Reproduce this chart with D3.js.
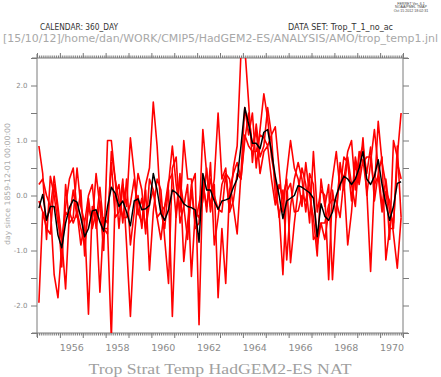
<!DOCTYPE html>
<html>
<head>
<meta charset="utf-8">
<script src="https://cdn.jsdelivr.net/npm/d3@7"></script>
<style>
  body { margin: 0; background: #fff; }
</style>
</head>
<body>
<div id="chart"></div>
<script>
// two-monthly samples, first one centred in Jan/Feb 1955
const startYear = 1955;
const samplesPerYear = 6;
const yearLabels = [1956, 1958, 1960, 1962, 1964, 1966, 1968, 1970];
const yLabels = [-2, -1, 0, 1, 2];

// ensemble mean (black)
const meanLine = [
  -0.23, 0.02, -0.45, -0.2, -0.2, -0.72, -0.95, -0.5, -0.22, -0.08,
  -0.12, -0.4, -0.75, -0.6, -0.28, -0.26, -0.48, -0.65, -0.2, 0.15,
  0.04, -0.2, -0.1, -0.3, -0.55, -0.1, -0.06, -0.26, -0.24, -0.18,
  0.4, 0.1, -0.33, -0.45, -0.26, 0.1, 0.05, -0.03, -0.15, -0.2,
  -0.22, -0.26, -0.85, 0.4, 0.1, 0.1, -0.1, -0.25, -0.1, -0.08,
  -0.05, 0.15, 0.3, 0.9, 1.6, 1.3, 0.95, 0.95, 0.85, 1.15,
  1.2, 0.8, 0.35, 0.0, -0.42, -0.1, -0.05, 0.0, 0.18, 0.15,
  0.1, 0.05, -0.05, -0.75, -0.15, -0.38, -0.45, -0.3, 0.0, 0.2,
  0.35, 0.3, 0.2, 0.3, 0.5, 0.8, 0.3, 0.2, 0.35, 0.65,
  0.2, -0.15, -0.45, -0.2, 0.22, 0.25
];

// ensemble members (red)
const run1 = [
  0.9, 0.4, -0.8, 0.35, 0.0, -0.5, -0.8, -0.2, 0.3, 0.5,
  -0.3, -0.6, -0.9, -0.2, -0.5, 0.4, -0.2, -1.0, 1.0, 1.0,
  0.3, -0.6, 0.2, -0.2, 1.05, 0.4, -0.3, -0.5, 0.2, 0.5,
  1.7, 0.9, -0.3, -0.6, 0.2, 0.9, 0.2, -0.3, 1.0, 0.3,
  0.3, -0.6, -0.5, 1.2, 0.4, -0.2, 0.3, 1.5, 0.3, 0.5,
  -0.3, 0.5, 0.9, 2.6, 2.7, 1.7, 0.6, 1.3, 0.7, 0.9,
  1.6, 1.1, 1.25, 0.5, -0.3, 0.4, 1.0, 0.5, 0.3, -0.2,
  0.6, 0.0, -0.4, -1.1, 0.3, -0.2, 0.2, -1.53, -0.3, 0.5,
  0.3, 0.8, 1.0, 0.1, 0.8, 0.6, 0.7, 0.7, 0.1, 1.35,
  0.6, 0.2, -0.8, 1.0, 0.7, 1.5
];
const run2 = [
  -1.95, -0.3, -0.6, -0.7, 0.2, -0.3, -1.3, 0.2, -0.5, -0.4,
  0.5, -0.2, -0.5, 0.0, 0.2, -0.6, -0.1, -0.6, -0.6, -2.6,
  0.0, 0.2, -0.5, 0.3, -0.9, -0.3, 0.4, 0.1, -0.7, 0.3,
  0.1, -0.4, -0.8, -0.2, 0.1, -2.2, -0.3, 0.4, -1.2, -0.5,
  0.2, 0.4, -2.35, 0.3, -0.3, 0.6, -0.9, -0.4, 0.2, 0.4,
  0.3, -0.2, -0.7, 0.4, 1.6, 1.1, 1.5, 0.5, 1.2, 1.85,
  1.4, 0.7, 0.3, -0.4, 0.1, -1.17, -0.2, 0.3, 0.6, 0.3,
  -0.3, 0.4, 0.2, -0.9, -0.5, -0.8, -0.3, 0.3, 0.8, 0.1,
  0.7, 0.6, -0.1, 0.7, 0.3, 1.05, 0.0, 0.6, 1.2, 0.5,
  -0.2, 0.3, -0.3, -0.5, 0.6, 0.3
];
const run3 = [
  0.2, 0.3, 0.0, -0.2, -1.44, -1.86, -0.9, -0.3, -0.4, 0.1,
  -0.4, 0.1, -1.1, -0.05, -0.6, -0.3, -1.76, -0.4, -0.5, 0.6,
  -0.4, -0.3, 0.3, -0.9, -2.2, -0.8, 0.0, -0.6, 0.1, -1.36,
  -0.3, 0.3, 0.1, -0.8, -1.6, 0.5, 0.7, -0.5, -0.2, 0.2,
  -1.47, -0.3, -0.4, -0.1, 0.5, -0.3, 0.2, -1.86, -0.6, -1.6,
  0.1, 0.4, 0.6, 0.3, 1.0, 1.5, 0.9, 1.2, 0.4, 0.8,
  0.9, 0.3, -0.17, 0.2, -0.05, 0.3, -1.22, -0.5, 0.1, 0.5,
  0.2, -0.5, 0.8, -0.3, 0.1, 0.0, -1.53, 0.1, -0.4, 0.6,
  0.1, 0.7, 0.2, -0.2, 0.7, 0.9, 0.4, 0.88, -0.1, 0.4,
  0.7, -1.17, -0.6, -0.6, 0.9, -0.4
];
const run4 = [
  -0.1, -0.3, -0.4, -0.25, 0.35, -0.2, -0.8, -1.7, -0.3, -0.5,
  -0.3, -0.9, -0.5, -2.16, -0.2, -0.5, 0.15, -0.6, -0.7, 0.8,
  0.3, -0.1, -0.4, -0.4, -0.15, 0.3, -0.35, -0.05, -0.6, -0.15,
  0.1, -0.4, -0.3, -0.2, 0.26, 0.4, -0.4, 0.3, -0.2, -0.8,
  0.1, -0.5, -0.15, 0.2, -0.2, 0.3, 0.0, -0.25, -0.3, 0.4,
  -0.3, -0.1, 0.4, 0.3, 1.1, 0.9, 0.8, 0.8, 1.1, 1.05,
  0.9, 1.1, 0.0, -0.3, -1.44, 0.07, 0.22, -0.3, -0.28, 0.0,
  -0.1, 0.3, -0.8, -0.7, -0.5, -0.5, -0.17, -0.07, -0.1, -0.4,
  0.3, -0.9, -0.3, 0.6, 0.2, 0.65, 0.1, -1.38, 0.2, 0.35,
  -0.3, 0.07, -0.1, -0.7, -1.32, -0.4
];

var width = 441, height = 377;
var margin = {top: 58, right: 38, bottom: 44, left: 37};
var x0 = margin.left, x1 = width - margin.right;
var y0 = margin.top, y1 = height - margin.bottom;
var axisColor = "#7a7a7a";

var svg = d3.select("#chart").append("svg")
  .attr("width", width)
  .attr("height", height);

var x = d3.scaleLinear().domain([1955, 1971]).range([x0, x1]);
var y = d3.scaleLinear().domain([-2.5, 2.5]).range([y1, y0]);

// header texts
svg.append("g").attr("font-family", "Liberation Sans, Arial, sans-serif")
  .attr("font-size", 3.6).attr("fill", "#444").attr("text-anchor", "middle")
  .selectAll("text")
  .data(["FERRET Ver. 6.1", "NOAA/PMEL TMAP", "Oct 15 2012 18:02:31"])
  .enter().append("text")
  .attr("x", 411).attr("y", (d, i) => 5 + i * 3.4)
  .text(d => d);

svg.append("text")
  .attr("x", 40).attr("y", 29.5)
  .attr("font-family", "DejaVu Sans, sans-serif").attr("font-size", 8)
  .attr("fill", "#333").attr("textLength", 78).attr("lengthAdjust", "spacingAndGlyphs")
  .text("CALENDAR: 360_DAY");
svg.append("text")
  .attr("x", 288).attr("y", 29.5)
  .attr("font-family", "DejaVu Sans, sans-serif").attr("font-size", 8)
  .attr("fill", "#333").attr("textLength", 105).attr("lengthAdjust", "spacingAndGlyphs")
  .text("DATA SET: Trop_T_1_no_ac");
svg.append("text")
  .attr("x", 3).attr("y", 41.5)
  .attr("font-family", "DejaVu Sans, sans-serif").attr("font-size", 11)
  .attr("fill", "#a8a8a8").attr("textLength", 435).attr("lengthAdjust", "spacingAndGlyphs")
  .text("[15/10/12]/home/dan/WORK/CMIP5/HadGEM2-ES/ANALYSIS/AMO/trop_temp1.jnl");

// axis frame lines (Ferret lets them overshoot a little)
svg.append("g").attr("stroke", axisColor).attr("stroke-width", 1)
  .selectAll("line")
  .data([
    [x0 - 5, y1, x1 + 5, y1], [x0 - 5, y0, x1 + 5, y0],
    [x0, y0 - 4, x0, y1 + 4], [x1, y0 - 4, x1, y1 + 4]
  ])
  .enter().append("line")
  .attr("x1", d => d[0]).attr("y1", d => d[1])
  .attr("x2", d => d[2]).attr("y2", d => d[3]);

var months = d3.range(0, 16 * 12 + 1).map(m => startYear + m / 12);
var years = d3.range(1955, 1972);

function styleAxis(g) {
  g.select(".domain").remove();
  g.selectAll(".tick line").attr("stroke", axisColor);
}

// bottom axis
svg.append("g").attr("transform", "translate(0," + y1 + ")")
  .call(d3.axisBottom(x).tickValues(months).tickSize(2.5).tickFormat("")).call(styleAxis);
svg.append("g").attr("transform", "translate(0," + y1 + ")")
  .call(d3.axisBottom(x).tickValues(years).tickSize(5).tickFormat("")).call(styleAxis);
var xl = svg.append("g").attr("transform", "translate(0," + y1 + ")")
  .call(d3.axisBottom(x).tickValues(yearLabels.map(v => v + 0.5)).tickSize(0).tickPadding(11)
    .tickFormat(d => Math.floor(d)));
xl.call(styleAxis);
xl.selectAll("text").attr("font-family", "DejaVu Sans, sans-serif").attr("font-size", 9.5)
  .attr("fill", "#8a8a8a");

// top axis
svg.append("g").attr("transform", "translate(0," + y0 + ")")
  .call(d3.axisTop(x).tickValues(months).tickSize(2.5).tickFormat("")).call(styleAxis);
svg.append("g").attr("transform", "translate(0," + y0 + ")")
  .call(d3.axisTop(x).tickValues(years).tickSize(5).tickFormat("")).call(styleAxis);

// left axis
var halfSteps = d3.range(-5, 6).map(v => v / 2);
svg.append("g").attr("transform", "translate(" + x0 + ",0)")
  .call(d3.axisLeft(y).tickValues(halfSteps).tickSize(6).tickFormat("")).call(styleAxis);
var yl = svg.append("g").attr("transform", "translate(" + x0 + ",0)")
  .call(d3.axisLeft(y).tickValues(yLabels).tickSize(0).tickPadding(9.5).tickFormat(d => d.toFixed(1)));
yl.call(styleAxis);
yl.selectAll("text").attr("font-family", "DejaVu Sans, sans-serif").attr("font-size", 7)
  .attr("fill", "#8a8a8a");

// right axis
svg.append("g").attr("transform", "translate(" + x1 + ",0)")
  .call(d3.axisRight(y).tickValues(halfSteps).tickSize(6).tickFormat("")).call(styleAxis);

// y axis title
svg.append("text")
  .attr("transform", "translate(9.5,184) rotate(-90)")
  .attr("text-anchor", "middle")
  .attr("font-family", "DejaVu Sans, sans-serif").attr("font-size", 7.5)
  .attr("fill", "#ababab").attr("textLength", 122).attr("lengthAdjust", "spacingAndGlyphs")
  .text("day since 1859-12-01 00:00:00");

// chart title
svg.append("text")
  .attr("x", 220).attr("y", 373.5).attr("text-anchor", "middle")
  .attr("font-family", "Liberation Serif, Times New Roman, serif").attr("font-size", 15.5)
  .attr("fill", "#a0a0a0").attr("textLength", 263).attr("lengthAdjust", "spacingAndGlyphs")
  .text("Trop Strat Temp HadGEM2-ES NAT");

// data lines
svg.append("clipPath").attr("id", "plot-clip")
  .append("rect").attr("x", x0).attr("y", y0).attr("width", x1 - x0).attr("height", y1 - y0);

var line = d3.line()
  .x((d, i) => x(startYear + (i + 0.5) / samplesPerYear))
  .y(d => y(d));

var plot = svg.append("g").attr("clip-path", "url(#plot-clip)");
[run1, run2, run3, run4].forEach(run => {
  plot.append("path")
    .datum(run)
    .attr("fill", "none")
    .attr("stroke", "#ff0000")
    .attr("stroke-width", 1.6)
    .attr("stroke-linejoin", "round")
    .attr("d", line);
});
plot.append("path")
  .datum(meanLine)
  .attr("fill", "none")
  .attr("stroke", "#000")
  .attr("stroke-width", 1.5)
  .attr("stroke-linejoin", "round")
  .attr("d", line);
</script>
</body>
</html>
